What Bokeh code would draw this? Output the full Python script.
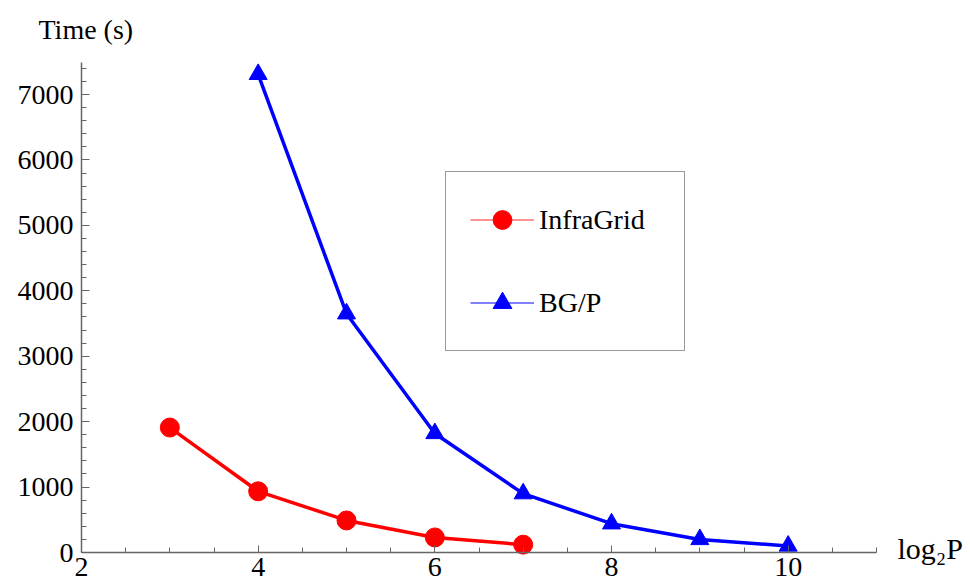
from bokeh.plotting import figure
from bokeh.models import Range1d, FixedTicker, Legend, LegendItem, Label
from bokeh.embed import file_html
from bokeh.resources import INLINE

# data
infragrid_x = [3, 4, 5, 6, 7]
infragrid_y = [1910, 935, 490, 230, 120]
bgp_x = [4, 5, 6, 7, 8, 9, 10]
bgp_y = [7310, 3650, 1820, 900, 440, 200, 100]
x_major = [2, 4, 6, 8, 10]
x_minor = [2.5, 3, 3.5, 4.5, 5, 5.5, 6.5, 7, 7.5, 8.5, 9, 9.5, 10.5, 11]
y_major = [0, 1000, 2000, 3000, 4000, 5000, 6000, 7000]
y_minor = [v for v in range(0, 7600, 200) if v % 1000 != 0]
x_axis_extent = (2, 11)
y_axis_extent = (0, 7490)

FONT = "Liberation Serif"
FS = "28px"

W, H = 970, 588
# axis origin in pixels and scale
X0_PX, Y0_PX = 81, 552
XS = 795 / 9.0          # px per x unit
YS = 490 / 7490.0       # px per y unit

p = figure(width=W, height=H, output_backend="svg", toolbar_location=None,
           x_range=Range1d(2 - X0_PX / XS, 2 + (W - X0_PX) / XS),
           y_range=Range1d(-(H - Y0_PX) / YS, Y0_PX / YS),
           min_border=0, min_border_left=0, min_border_right=0,
           min_border_top=0, min_border_bottom=0)
p.outline_line_color = None
p.xgrid.visible = False
p.ygrid.visible = False
p.background_fill_color = "white"
p.border_fill_color = "white"

xa = p.xaxis[0]
ya = p.yaxis[0]
xa.fixed_location = 0
ya.fixed_location = 2
xa.bounds = x_axis_extent
ya.bounds = y_axis_extent
for ax in (xa, ya):
    ax.axis_line_color = "#666666"
    ax.axis_line_width = 1.5
    ax.major_tick_line_color = "#666666"
    ax.minor_tick_line_color = "#666666"
    ax.major_tick_out = 0
    ax.minor_tick_out = 0
    ax.major_label_text_font = FONT
    ax.major_label_text_font_size = FS
    ax.major_label_text_color = "black"

xa.ticker = FixedTicker(ticks=x_major, minor_ticks=x_minor)
ya.ticker = FixedTicker(ticks=y_major, minor_ticks=y_minor)
xa.major_tick_in = 7
xa.minor_tick_in = 5
ya.major_tick_in = 8
ya.minor_tick_in = 5
xa.major_label_standoff = 5
ya.major_label_standoff = 8

# thin lines for the legend (drawn first, hidden under the thick ones)
r_lin1 = p.line(infragrid_x, infragrid_y, line_color="#ff7070", line_width=1.5)
r_lin2 = p.line(bgp_x, bgp_y, line_color="#0000ff", line_width=1.2)
# thick plotted lines
p.line(infragrid_x, infragrid_y, line_color="#ff0000", line_width=3.5)
p.line(bgp_x, bgp_y, line_color="#0000ff", line_width=3.5)
r_sc1 = p.scatter(infragrid_x, infragrid_y, marker="circle", size=19,
                  fill_color="#ff0000", line_color="#ff0000")
r_sc2 = p.scatter(bgp_x, bgp_y, marker="triangle", size=18,
                  fill_color="#0000ff", line_color="#0000ff")

legend = Legend(items=[LegendItem(label="InfraGrid", renderers=[r_lin1, r_sc1]),
                       LegendItem(label="BG/P", renderers=[r_lin2, r_sc2])],
                location=(445, H - 351), orientation="vertical")
legend.padding = 24
legend.margin = 0
legend.spacing = 36
legend.glyph_width = 64
legend.glyph_height = 47
legend.label_height = 47
legend.label_width = 121
legend.label_standoff = 5
legend.label_text_font = FONT
legend.label_text_font_size = FS
legend.label_text_color = "black"
legend.border_line_color = "#333333"
legend.border_line_width = 1
legend.background_fill_color = "white"
legend.background_fill_alpha = 1
p.add_layout(legend, "center")

p.add_layout(Label(x=2 + (38 - X0_PX) / XS, y=(Y0_PX - 29) / YS, text="Time (s)",
                   text_font=FONT, text_font_size=FS, text_color="black",
                   text_align="left", text_baseline="alphabetic"))
p.add_layout(Label(x=2 + (897 - X0_PX) / XS, y=(Y0_PX - 548) / YS, text="log\u2082P",
                   text_font=FONT, text_font_size="30px", text_color="black",
                   text_align="left", text_baseline="alphabetic"))

open("out.html", "w").write(file_html(p, INLINE))
